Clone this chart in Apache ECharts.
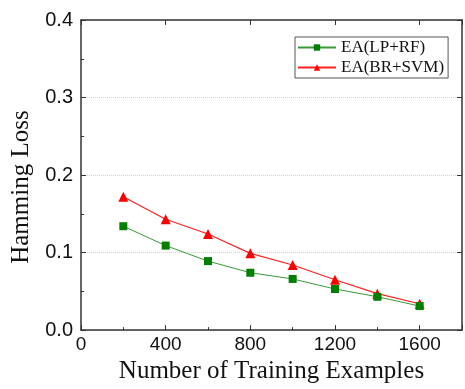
<!DOCTYPE html>
<html>
<head>
<meta charset="utf-8">
<script src="https://cdn.jsdelivr.net/npm/echarts@6/dist/echarts.min.js"></script>
<style>
  html, body { margin: 0; padding: 0; background: #fff; }
  #chart { width: 465px; height: 389px; }
</style>
</head>
<body>
<div id="chart"></div>
<script>
// values
const trainSizes = [200, 400, 600, 800, 1000, 1200, 1400, 1600];
const lpRf = [0.134, 0.109, 0.089, 0.074, 0.066, 0.053, 0.043, 0.031];
const brSvm = [0.172, 0.143, 0.124, 0.099, 0.084, 0.065, 0.047, 0.034];
const seriesNames = ['EA(LP+RF)', 'EA(BR+SVM)'];

const pairs = (ys) => trainSizes.map((x, i) => [x, ys[i]]);

let myChart = echarts.init(document.getElementById('chart'));

const axisCol = '#333';
const serif = '"Liberation Serif", "Times New Roman", serif';
const sans = '"Liberation Sans", Arial, sans-serif';

let option = {
    backgroundColor: '#fff',
    animation: false,
    grid: {left: 81, right: 3, top: 20, bottom: 57},
    legend: {
        left: 295, top: 37,
        orient: 'vertical',
        data: seriesNames,
        itemWidth: 38, itemHeight: 8, itemGap: 3,
        padding: [2, 4, 2, 2],
        borderColor: '#555', borderWidth: 1,
        textStyle: {fontFamily: serif, fontSize: 17, color: '#111'}
    },
    xAxis: [{
        type: 'value', min: 0, max: 1800, interval: 400,
        name: 'Number of Training Examples', nameLocation: 'middle', nameGap: 24,
        nameTextStyle: {fontFamily: serif, fontSize: 25, color: '#111'},
        axisLine: {onZero: false, lineStyle: {color: axisCol, width: 1.5}},
        axisTick: {inside: true, length: 5, lineStyle: {color: axisCol}},
        minorTick: {show: true, splitNumber: 2, length: 3, lineStyle: {color: axisCol}},
        axisLabel: {fontFamily: sans, fontSize: 19, color: '#111', margin: 5, showMaxLabel: false,
            formatter: (v) => String(v)},
        splitLine: {show: false}
    }, {
        type: 'value', position: 'top', min: 0, max: 1800, interval: 400,
        axisLine: {onZero: false, lineStyle: {color: axisCol, width: 1.5}},
        axisTick: {inside: true, length: 5, lineStyle: {color: axisCol}},
        axisLabel: {show: false},
        splitLine: {show: false}
    }],
    yAxis: [{
        type: 'value', min: 0, max: 0.4, interval: 0.1,
        name: 'Hamming Loss', nameLocation: 'middle', nameGap: 46,
        nameTextStyle: {fontFamily: serif, fontSize: 25, color: '#111', padding: [0, 24, 0, 0]},
        axisLine: {show: true, onZero: false, lineStyle: {color: axisCol, width: 1.5}},
        axisTick: {show: true, inside: true, length: 5, lineStyle: {color: axisCol}},
        minorTick: {show: true, splitNumber: 2, length: 3, lineStyle: {color: axisCol}},
        axisLabel: {fontFamily: sans, fontSize: 20, color: '#111', margin: 8,
            formatter: (v) => v.toFixed(1)},
        splitLine: {show: true, lineStyle: {color: '#d4d4d4', type: 'dotted', width: 1}}
    }, {
        type: 'value', position: 'right', min: 0, max: 0.4, interval: 0.1,
        axisLine: {show: true, onZero: false, lineStyle: {color: axisCol, width: 1.5}},
        axisTick: {show: true, inside: true, length: 5, lineStyle: {color: axisCol}},
        axisLabel: {show: false},
        splitLine: {show: false}
    }],
    series: [{
        name: seriesNames[0], type: 'line',
        data: pairs(lpRf),
        symbol: 'rect', symbolSize: 8,
        itemStyle: {color: '#007f00'},
        lineStyle: {color: '#3a9a3a', width: 1},
        z: 3
    }, {
        name: seriesNames[1], type: 'line',
        data: pairs(brSvm),
        symbol: 'triangle', symbolSize: 10,
        itemStyle: {color: '#ff0000'},
        lineStyle: {color: '#ff2020', width: 1.2},
        z: 2
    }]
};

myChart.setOption(option);
</script>
</body>
</html>
